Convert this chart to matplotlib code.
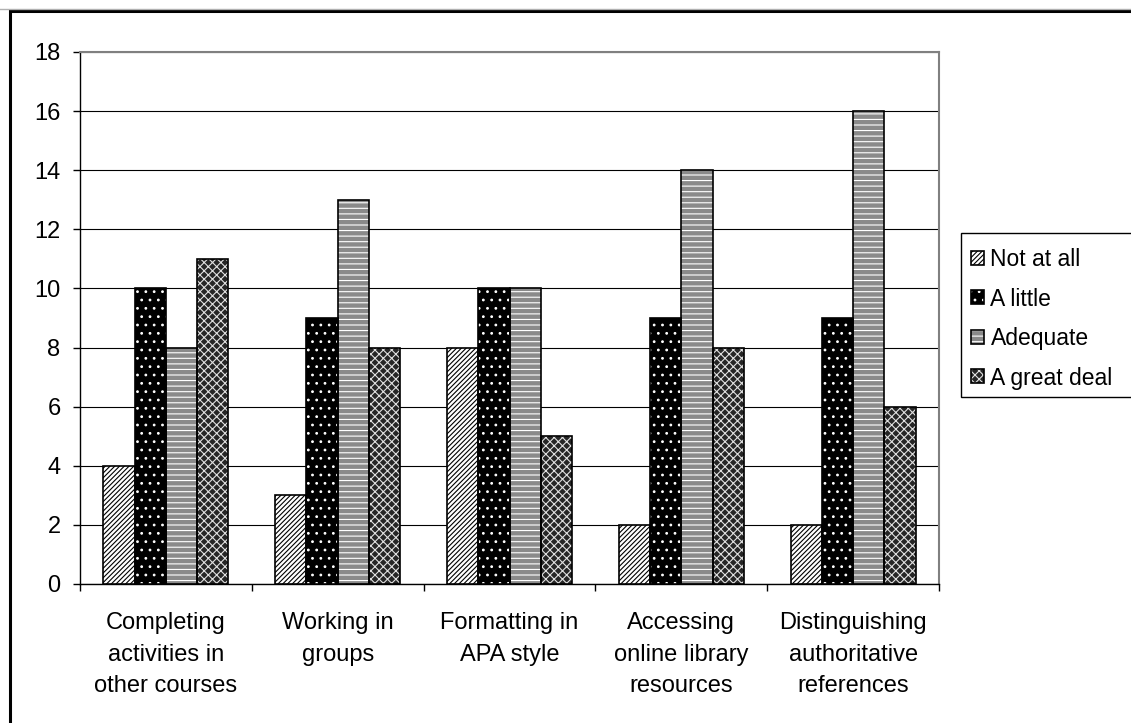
import numpy as np
import matplotlib.pyplot as plt
from matplotlib.patches import Rectangle
from matplotlib.lines import Line2D
from matplotlib.legend_handler import HandlerTuple

plt.rcParams['font.family'] = ['Liberation Sans', 'DejaVu Sans']
plt.rcParams['hatch.linewidth'] = 0.8

categories = [
    "Completing\nactivities in\nother courses",
    "Working in\ngroups",
    "Formatting in\nAPA style",
    "Accessing\nonline library\nresources",
    "Distinguishing\nauthoritative\nreferences",
]
series_names = ["Not at all", "A little", "Adequate", "A great deal"]
not_at_all = [4, 3, 8, 2, 2]
a_little = [10, 9, 10, 9, 9]
adequate = [8, 13, 10, 14, 16]
great_deal = [11, 8, 5, 8, 6]
values = [not_at_all, a_little, adequate, great_deal]

# fill colour, hatch pattern, hatch colour for each series
styles = [
    ("white", "///////", "black"),
    ("black", "..", "white"),
    ("#8a8a8a", "---", "white"),
    ("#262626", "xxxx", "#e0e0e0"),
]

W, H = 1131, 723
fig = plt.figure(figsize=(W / 100, H / 100), dpi=100)

# outer frame (cropped on right and bottom)
fig.add_artist(Line2D([0, 1], [1 - 9 / H, 1 - 9 / H], transform=fig.transFigure,
                      color="#b0b0b0", lw=1))
fig.add_artist(Rectangle((10 / W, -0.05), 1.1, 1 - 11 / H + 0.05, transform=fig.transFigure,
                         fill=False, edgecolor="black", lw=2.2, clip_on=False))

ax = fig.add_axes([80 / W, 1 - 584 / H, (939 - 80) / W, (584 - 52) / H])

x = np.arange(len(categories))
width = 1 / 5.5
handles = []
for i, (vals, (fc, hatch, hc)) in enumerate(zip(values, styles)):
    pos = x + (i - 1.5) * width
    b1 = ax.bar(pos, vals, width, color=fc, hatch=hatch, edgecolor=hc, lw=0, zorder=3)
    b2 = ax.bar(pos, vals, width, fill=False, edgecolor="black", lw=1.2, zorder=4)
    handles.append((b1[0], b2[0]))

ax.set_xlim(-0.5, len(categories) - 0.5)
ax.set_ylim(0, 18)
ax.set_yticks(np.arange(0, 19, 2))
ax.tick_params(axis="y", labelsize=17, length=5, width=1, pad=9, direction="out")

ax.set_xticks(np.arange(-0.5, len(categories), 1))
ax.set_xticklabels([])
ax.tick_params(axis="x", which="major", length=5, width=1, direction="out")
ax.set_xticks(x, minor=True)
ax.set_xticklabels(categories, minor=True, fontsize=17, linespacing=1.58)
ax.tick_params(axis="x", which="minor", length=0, pad=20)

ax.yaxis.grid(True, color="black", lw=0.8)
ax.set_axisbelow(True)
for s in ["top", "right"]:
    ax.spines[s].set_color("#808080")
    ax.spines[s].set_linewidth(1.5)
for s in ["left", "bottom"]:
    ax.spines[s].set_color("black")
    ax.spines[s].set_linewidth(1)

# legend box (cut off at right edge)
fig.add_artist(Rectangle((961 / W, 1 - 397 / H), 0.2, (397 - 233) / H, transform=fig.transFigure,
                         facecolor="white", edgecolor="black", lw=1, clip_on=False))
fig.legend(handles, series_names, handler_map={tuple: HandlerTuple(ndivide=1, pad=0)},
           loc="upper left", bbox_to_anchor=(971 / W, 1 - 248 / H), frameon=False,
           fontsize=16.5, handlelength=0.55, handleheight=0.55, handletextpad=0.3,
           labelspacing=0.72, borderaxespad=0, borderpad=0)

fig.savefig("out.png", dpi=100)
